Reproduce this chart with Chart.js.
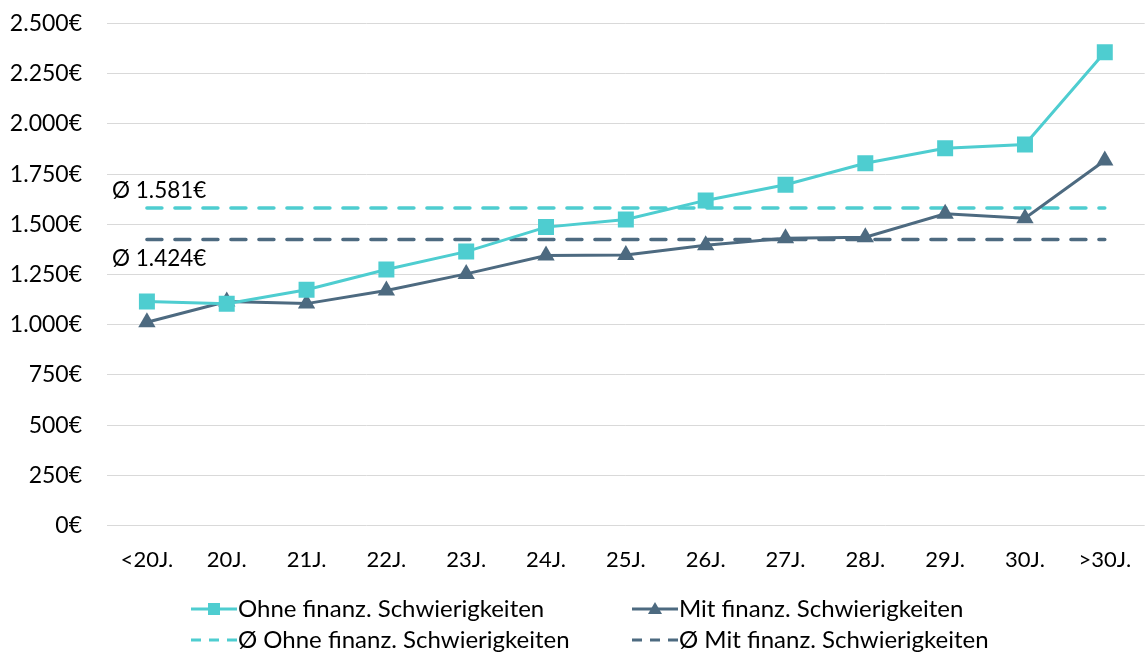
<!DOCTYPE html>
<html>
<head>
<meta charset="utf-8">
<script src="https://cdn.jsdelivr.net/npm/chart.js@4/dist/chart.umd.min.js"></script>
<style>
  html, body { margin: 0; padding: 0; background: #fff; overflow: hidden; }
  #wrap { position: relative; width: 1156px; height: 654px; }
</style>
</head>
<body>
<div id="wrap"><canvas id="chart"></canvas></div>
<script>
const labels = ["<20J.", "20J.", "21J.", "22J.", "23J.", "24J.", "25J.", "26J.", "27J.", "28J.", "29J.", "30J.", ">30J."];
const ohne = [1115, 1104, 1174, 1275, 1364, 1486, 1524, 1619, 1697, 1804, 1879, 1897, 2357];
const mit = [1012, 1115, 1105, 1170, 1253, 1345, 1347, 1396, 1431, 1436, 1552, 1530, 1818];
const avgOhne = 1581;
const avgMit = 1424;
const seriesNames = ["Ohne finanz. Schwierigkeiten", "Mit finanz. Schwierigkeiten", "Ø Ohne finanz. Schwierigkeiten", "Ø Mit finanz. Schwierigkeiten"];

const cyan = "#4ecdd0";
const slate = "#4d6a80";
const FONT = "Lato, 'Open Sans', sans-serif";

function euro(v) {
  return String(v).replace(/\B(?=(\d{3})+(?!\d))/g, ".") + "€";
}

// Ø labels next to the average lines
const avgLabels = {
  id: "avgLabels",
  afterDatasetsDraw(chart) {
    const ctx = chart.ctx;
    const y = chart.scales.y;
    ctx.save();
    ctx.font = "22.5px " + FONT;
    ctx.fillStyle = "#000";
    ctx.textAlign = "left";
    ctx.textBaseline = "middle";
    ctx.fillText("Ø " + euro(avgOhne), 112, y.getPixelForValue(avgOhne) - 17);
    ctx.fillText("Ø " + euro(avgMit), 112, y.getPixelForValue(avgMit) + 19);
    ctx.restore();
  }
};

// 2x2 legend like the original
const gridLegend = {
  id: "gridLegend",
  afterDraw(chart) {
    const ctx = chart.ctx;
    const cols = [191, 632];
    const rows = [609, 640];
    ctx.save();
    ctx.font = "24px " + FONT;
    ctx.textBaseline = "middle";
    ctx.textAlign = "left";
    chart.data.datasets.forEach((ds, i) => {
      const x = cols[i % 2];
      const y = rows[Math.floor(i / 2)];
      ctx.strokeStyle = ds.borderColor;
      ctx.fillStyle = ds.borderColor;
      ctx.lineWidth = 3;
      if (ds.borderDash) {
        ctx.setLineDash([10, 8]);
        ctx.beginPath();
        ctx.moveTo(x, y);
        ctx.lineTo(x + 46, y);
        ctx.stroke();
        ctx.setLineDash([]);
      } else {
        ctx.beginPath();
        ctx.moveTo(x, y);
        ctx.lineTo(x + 46, y);
        ctx.stroke();
        const cx = x + 23;
        if (ds.pointStyle === "rect") {
          ctx.fillRect(cx - 6, y - 6, 12, 12);
        } else {
          ctx.beginPath();
          ctx.moveTo(cx, y - 7);
          ctx.lineTo(cx + 7, y + 5);
          ctx.lineTo(cx - 7, y + 5);
          ctx.closePath();
          ctx.fill();
        }
      }
      ctx.fillStyle = "#000";
      ctx.fillText(ds.label, x + 47, y);
    });
    ctx.restore();
  }
};

new Chart(document.getElementById("chart"), {
  type: "line",
  data: {
    labels: labels,
    datasets: [
      {
        label: seriesNames[0], data: ohne,
        borderColor: cyan, backgroundColor: cyan, borderWidth: 3,
        pointStyle: "rect", pointRadius: 11.3, pointBorderWidth: 0, pointBackgroundColor: cyan
      },
      {
        label: seriesNames[1], data: mit,
        borderColor: slate, backgroundColor: slate, borderWidth: 3,
        pointStyle: "triangle", pointRadius: 10, pointBorderWidth: 0, pointBackgroundColor: slate
      },
      {
        label: seriesNames[2], data: labels.map(() => avgOhne),
        borderColor: cyan, borderWidth: 3.5, borderDash: [15, 13], pointRadius: 0, borderCapStyle: "round"
      },
      {
        label: seriesNames[3], data: labels.map(() => avgMit),
        borderColor: slate, borderWidth: 3.5, borderDash: [15, 13], pointRadius: 0, borderCapStyle: "round"
      }
    ]
  },
  options: {
    responsive: true,
    maintainAspectRatio: false,
    animation: false,
    layout: { padding: { top: 23.5, left: 0, right: 0, bottom: 0 } },
    plugins: { legend: { display: false }, tooltip: { enabled: false } },
    scales: {
      x: {
        offset: true,
        grid: { display: false, drawTicks: false },
        border: { display: false },
        ticks: { color: "#000", font: { family: FONT, size: 22 }, padding: 21, maxRotation: 0, autoSkip: false },
        afterFit(scale) { scale.height = 128.5; scale.paddingLeft = 0; scale.paddingRight = 0; }
      },
      y: {
        min: 0, max: 2500,
        grid: { color: "#d9d9d9", lineWidth: 1, drawTicks: false },
        border: { display: false },
        ticks: { stepSize: 250, color: "#000", font: { family: FONT, size: 23 }, padding: 25, callback: v => euro(v) },
        afterFit(scale) { scale.width = 107; scale.paddingTop = 0; scale.paddingBottom = 0; }
      }
    }
  },
  plugins: [avgLabels, gridLegend]
});
</script>
</body>
</html>
